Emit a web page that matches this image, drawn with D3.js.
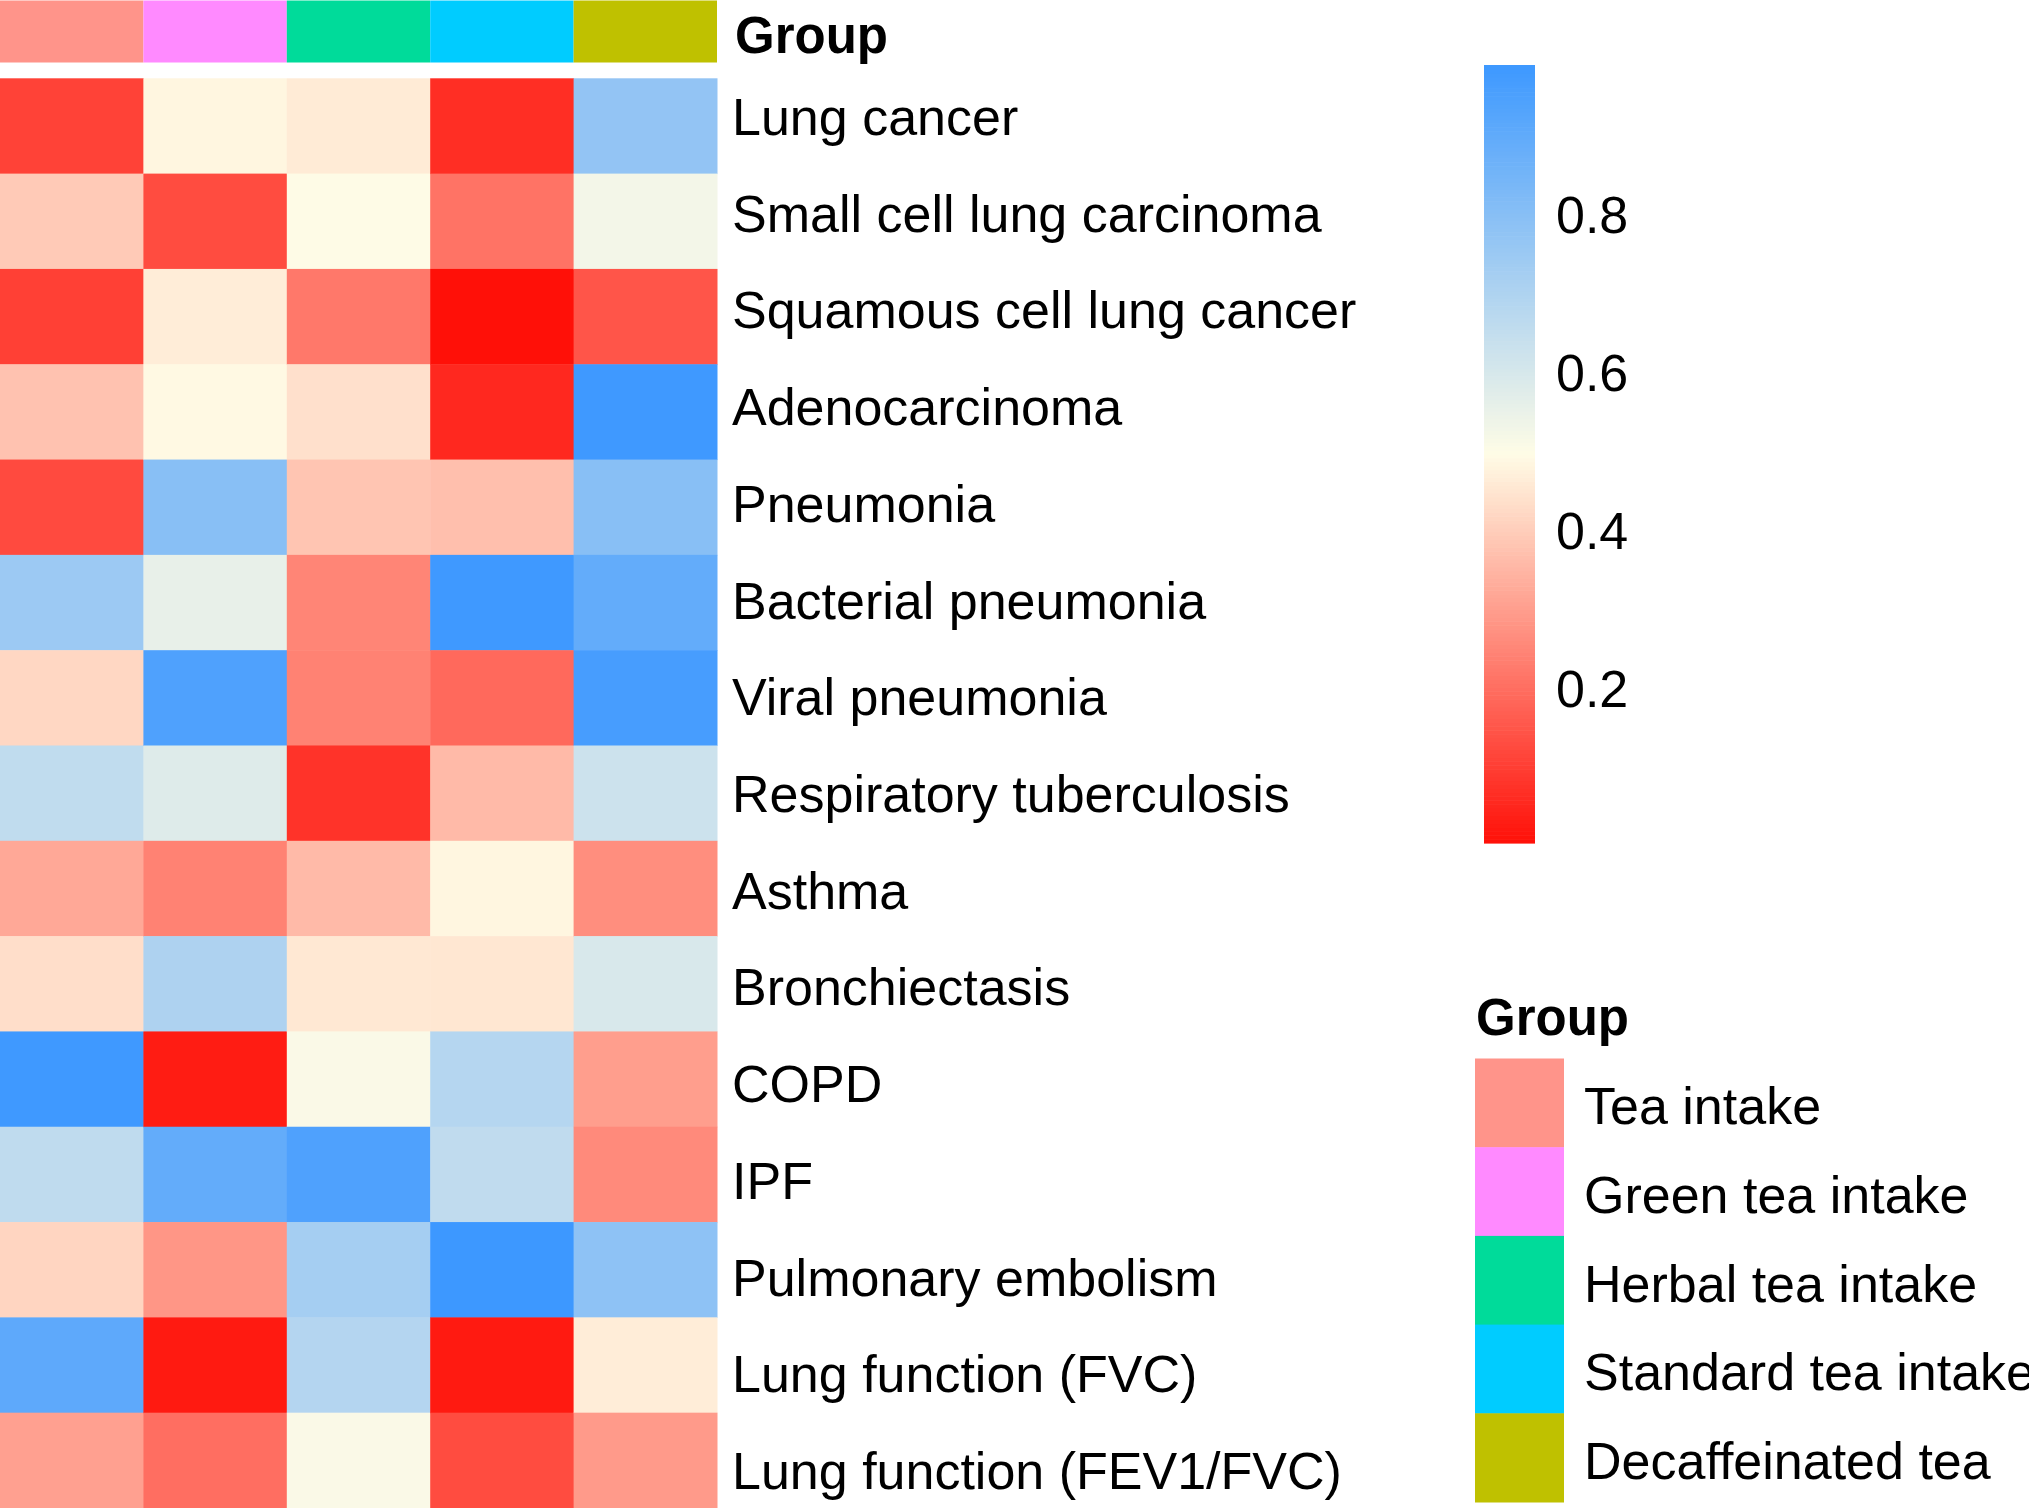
<!DOCTYPE html>
<html>
<head>
  <meta charset="utf-8">
  <title>Tea intake heatmap</title>
  <style>
    body { margin: 0; background: #fff; }
    text { font-family: "Liberation Sans", Arial, sans-serif; fill: #000; }
  </style>
</head>
<body>
  <div class="area"></div>

  <script src="https://cdn.jsdelivr.net/npm/d3@7"></script>
  <script type="text/javascript">

  var w = 2029, h = 1508;

  // data
  var diseases = ['Lung cancer', 'Small cell lung carcinoma', 'Squamous cell lung cancer',
    'Adenocarcinoma', 'Pneumonia', 'Bacterial pneumonia', 'Viral pneumonia',
    'Respiratory tuberculosis', 'Asthma', 'Bronchiectasis', 'COPD', 'IPF',
    'Pulmonary embolism', 'Lung function (FVC)', 'Lung function (FEV1/FVC)'];

  var groups = ['Tea intake', 'Green tea intake', 'Herbal tea intake',
    'Standard tea intake', 'Decaffeinated tea'];
  var groupColors = ['#FF948A', '#FF8AFF', '#00DB9A', '#00CCFF', '#BFC100'];

  var teaIntake   = [0.109, 0.392, 0.105, 0.376, 0.126, 0.747, 0.420, 0.656, 0.322, 0.434, 0.983, 0.659, 0.415, 0.904, 0.305];
  var greenTea    = [0.484, 0.130, 0.465, 0.490, 0.798, 0.555, 0.942, 0.580, 0.242, 0.702, 0.030, 0.892, 0.284, 0.026, 0.201];
  var herbalTea   = [0.461, 0.500, 0.221, 0.438, 0.382, 0.249, 0.242, 0.078, 0.359, 0.455, 0.509, 0.942, 0.724, 0.687, 0.509];
  var standardTea = [0.067, 0.211, 0.005, 0.055, 0.370, 0.983, 0.190, 0.359, 0.484, 0.453, 0.684, 0.657, 0.988, 0.026, 0.130];
  var decafTea    = [0.770, 0.527, 0.149, 0.983, 0.798, 0.892, 0.962, 0.626, 0.267, 0.595, 0.300, 0.259, 0.783, 0.466, 0.292];

  var series = [teaIntake, greenTea, herbalTea, standardTea, decafTea];
  var colorTicks = [0.2, 0.4, 0.6, 0.8];

  var cells = [];
  series.forEach(function(s, j){
    s.forEach(function(v, i){
      cells.push({row: diseases[i], group: groups[j], value: v});
    });
  });

  var svg = d3.select('.area')
    .append('svg')
    .attr('width', w)
    .attr('height', h);

  // scales
  var x = d3.scaleBand().domain(groups).range([0, 717]);
  var y = d3.scaleBand().domain(diseases).range([78.3, 1508]);
  var labelY = d3.scalePoint().domain(diseases).range([135, 1489]);

  var ext = d3.extent(cells, function(d){ return d.value; });
  var color = d3.scaleLinear()
    .domain([ext[0], (ext[0] + ext[1]) / 2, ext[1]])
    .range(['#FF1008', '#FFFCE6', '#3D98FF'])
    .interpolate(d3.interpolateRgb);

  // annotation bar
  svg.append('g').selectAll('rect')
    .data(groups)
    .enter().append('rect')
    .attr('x', function(d){ return x(d); })
    .attr('y', 0.5)
    .attr('width', x.bandwidth())
    .attr('height', 62)
    .attr('fill', function(d, i){ return groupColors[i]; });

  svg.append('text')
    .attr('x', 735)
    .attr('y', 53)
    .style('font-size', '51px')
    .style('font-weight', 'bold')
    .text('Group');

  // heatmap cells
  svg.append('g').selectAll('rect')
    .data(cells)
    .enter().append('rect')
    .attr('x', function(d){ return x(d.group); })
    .attr('y', function(d){ return y(d.row); })
    .attr('width', x.bandwidth() + 0.5)
    .attr('height', y.bandwidth() + 0.5)
    .attr('fill', function(d){ return color(d.value); });

  // row labels
  svg.append('g').selectAll('text')
    .data(diseases)
    .enter().append('text')
    .attr('x', 732)
    .attr('y', function(d){ return labelY(d); })
    .style('font-size', '52px')
    .text(function(d){ return d; });

  // colour bar
  var cb = d3.scaleLinear().domain(ext).range([843, 65]);
  var steps = d3.range(200).map(function(i){ return ext[0] + (ext[1] - ext[0]) * i / 200; });
  var stepH = (843 - 65) / 200;

  svg.append('g').selectAll('rect')
    .data(steps)
    .enter().append('rect')
    .attr('x', 1484)
    .attr('y', function(d){ return cb(d) - stepH; })
    .attr('width', 51)
    .attr('height', stepH + 0.6)
    .attr('fill', function(d){ return color(d + (ext[1] - ext[0]) / 400); });

  svg.append('g').selectAll('text')
    .data(colorTicks)
    .enter().append('text')
    .attr('x', 1556)
    .attr('y', function(d){ return cb(d); })
    .attr('dy', '0.36em')
    .style('font-size', '52px')
    .text(function(d){ return d.toFixed(1); });

  // group legend
  var ly = d3.scaleBand().domain(groups).range([1058.5, 1502]);

  svg.append('text')
    .attr('x', 1476)
    .attr('y', 1035)
    .style('font-size', '51px')
    .style('font-weight', 'bold')
    .text('Group');

  svg.append('g').selectAll('rect')
    .data(groups)
    .enter().append('rect')
    .attr('x', 1475)
    .attr('y', function(d){ return ly(d); })
    .attr('width', 89)
    .attr('height', ly.bandwidth() + 0.5)
    .attr('fill', function(d, i){ return groupColors[i]; });

  svg.append('g').selectAll('text')
    .data(groups)
    .enter().append('text')
    .attr('x', 1584)
    .attr('y', function(d){ return ly(d) + ly.bandwidth() / 2 + 21.5; })
    .style('font-size', '52px')
    .text(function(d){ return d; });

  </script>
</body>
</html>
